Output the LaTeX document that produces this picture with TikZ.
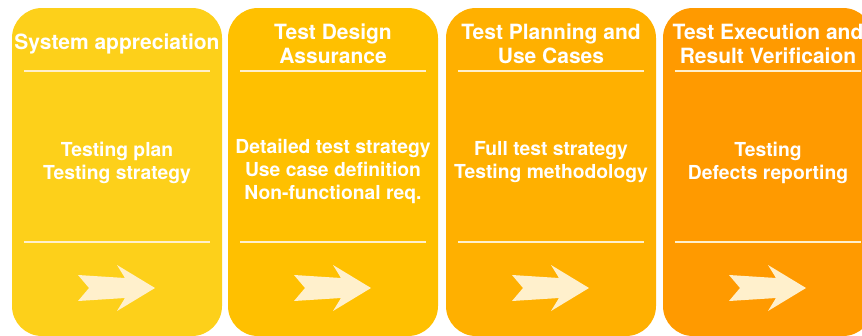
\documentclass[tikz,border=0pt]{standalone}
\usepackage{fontspec}
\setmainfont{TeX Gyre Heros}
\usetikzlibrary{positioning,calc}

\definecolor{stageA}{HTML}{FDD01A}
\definecolor{stageB}{HTML}{FFC000}
\definecolor{stageC}{HTML}{FFB000}
\definecolor{stageD}{HTML}{FF9A00}
\definecolor{cream}{HTML}{FFF0CC}

\tikzset{
  stagebox/.style={rounded corners=30pt, minimum width=210pt, minimum height=328pt, inner sep=0pt},
  stagetitle/.style={text=white, font=\fontsize{21}{24}\selectfont\bfseries, align=center},
  stagetext/.style={text=white, font=\fontsize{19.3}{23}\selectfont\bfseries, align=center},
  rule/.style={cream, line width=1.5pt},
  chevron/.style={fill=cream}
}

\begin{document}
\begin{tikzpicture}[x=1pt,y=-1pt]
  \useasboundingbox (0,0) rectangle (862,335);
  \clip (0,0) rectangle (862,335);
  % one column per phase: box, title, two rules, body and the arrow mark
  \foreach \n/\cx/\col/\title/\body/\by in {
      1/117/stageA/{System appreciation}/{Testing plan\\Testing strategy}/162.5,
      2/333/stageB/{Test Design\\Assurance}/{Detailed test strategy\\Use case definition\\Non-functional req.}/171,
      3/551/stageC/{Test Planning and\\Use Cases}/{Full test strategy\\Testing methodology}/162.5,
      4/768/stageD/{Test Execution and\\Result Verificaion}/{Testing\\Defects reporting}/162.5}{
    \node[stagebox, fill=\col] (stage\n) at (\cx,172) {};
    \node[stagetitle] (title\n) at (\cx,44) {\title};
    \node[stagetext] (body\n) at (\cx,\by) {\body};
    \draw[rule] ($(stage\n.north west)+(12,63)$) -- ($(stage\n.north east)+(-12,63)$);
    \draw[rule] ($(stage\n.north west)+(12,234)$) -- ($(stage\n.north east)+(-12,234)$);
    \coordinate (mark\n) at (\cx,288);
    \fill[chevron, shift={(mark\n)}] (-39,-13) -- (8,-10) -- (0,-23) -- (38,0)
      -- (0,23) -- (8,10) -- (-39,13) -- (-28,0) -- cycle;
  }
\end{tikzpicture}
\end{document}
